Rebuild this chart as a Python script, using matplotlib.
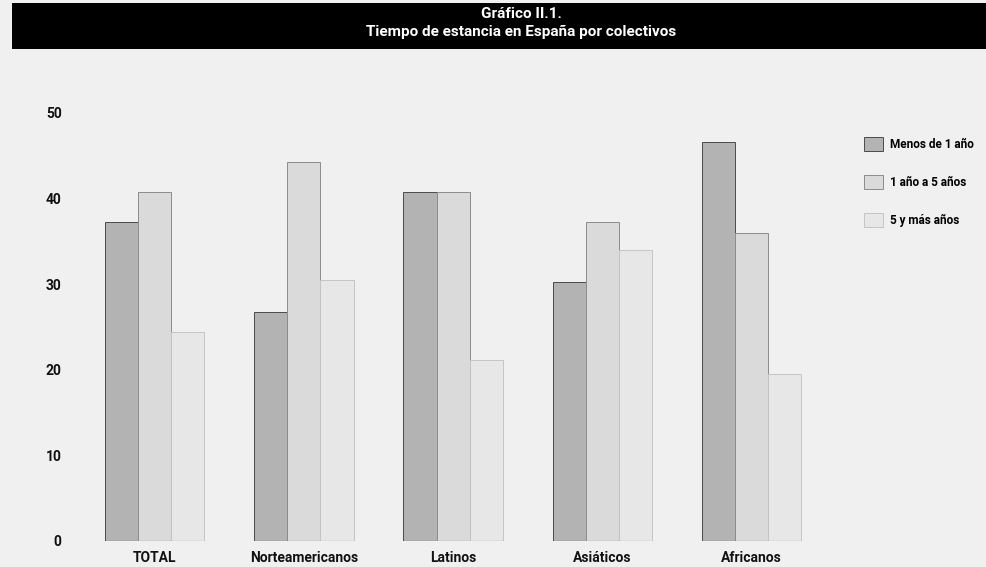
import numpy as np
import matplotlib
matplotlib.use("Agg")
import matplotlib.pyplot as plt
from matplotlib.patches import Rectangle

plt.rcParams["font.family"] = ["Roboto", "DejaVu Sans"]
plt.rcParams["font.weight"] = "bold"

categories = ["TOTAL", "Norteamericanos", "Latinos", "Asiáticos", "Africanos"]
series_names = ["Menos de 1 año", "1 año a 5 años", "5 y más años"]
menos_1 = [37.3, 26.8, 40.8, 30.2, 46.6]
de_1_a_5 = [40.8, 44.3, 40.8, 37.3, 36.0]
mas_de_5 = [24.4, 30.5, 21.1, 34.0, 19.5]
y_ticks = [0, 10, 20, 30, 40, 50]

BG = "#f0f0f0"
fills = ["#b3b3b3", "#dadada", "#e7e7e7"]
edges = ["#4a4a4a", "#8c8c8c", "#c4c4c4"]

W, H = 987, 567
fig = plt.figure(figsize=(W / 100, H / 100), dpi=100, facecolor=BG)

# title band
band = fig.add_axes([12 / W, 1 - 49 / H, 1 - 12 / W, 46 / H])
band.set_axis_off()
band.add_patch(Rectangle((0, 0), 1, 1, transform=band.transAxes, color="black"))
fig.text(521 / W, 1 - 14 / H, "Gráfico II.1.", color="white", fontsize=11,
         ha="center", va="center")
fig.text(521 / W, 1 - 32 / H, "Tiempo de estancia en España por colectivos",
         color="white", fontsize=11, ha="center", va="center")

# plot area: y=0 at 541px, 8.56 px per unit
ymax = 56
ax = fig.add_axes([95 / W, (H - 541) / H, 1 - 95 / W, ymax * 8.56 / H])
ax.set_facecolor(BG)
for s in ax.spines.values():
    s.set_visible(False)

x = np.arange(len(categories))
w = 0.222
for k, vals in enumerate([menos_1, de_1_a_5, mas_de_5]):
    ax.bar(x - w + k * w, vals, width=w, color=fills[k], edgecolor=edges[k],
           linewidth=0.7, label=series_names[k], zorder=2)
ax.hlines(np.zeros(len(x)), x - 1.5 * w, x + 1.5 * w, color="#333333", lw=0.8, zorder=3)

ax.set_xlim(-0.4, (W - 154.5) / 149.25)
ax.set_ylim(0, ymax)
ax.set_yticks(y_ticks)
ax.set_xticks(x)
ax.set_xticklabels(categories, fontsize=8.5)
ax.tick_params(axis="both", length=0, labelsize=10, colors="#111111")
ax.tick_params(axis="y", pad=24)
ax.tick_params(axis="x", pad=7)

leg = ax.legend(loc="upper left", bbox_to_anchor=(853 / W, 1 - 126 / H),
                bbox_transform=fig.transFigure, frameon=False, fontsize=8.5,
                handlelength=1.6, handleheight=1.5, labelspacing=2.0,
                handletextpad=0.6)

fig.savefig("out.png", dpi=100, facecolor=BG)
